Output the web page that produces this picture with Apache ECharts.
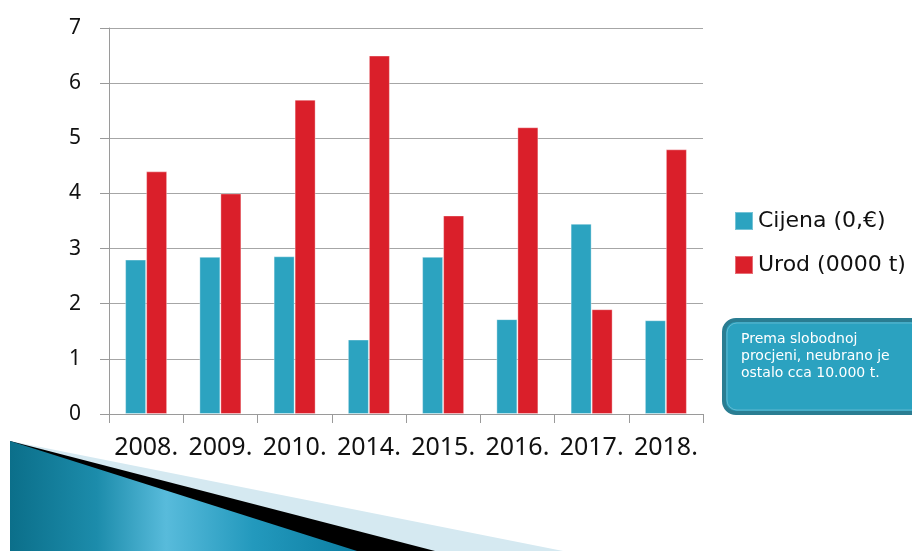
<!DOCTYPE html>
<html>
<head>
<meta charset="utf-8">
<script src="https://cdn.jsdelivr.net/npm/echarts@6/dist/echarts.min.js"></script>
<style>html,body{margin:0;padding:0;background:#fff;}#c{width:912px;height:551px;}</style>
</head>
<body>
<div id="c"></div>
<script>
var categories = ['2008.', '2009.', '2010.', '2014.', '2015.', '2016.', '2017.', '2018.'];
var cijena = [2.8, 2.85, 2.86, 1.35, 2.85, 1.72, 3.45, 1.7];
var urod = [4.4, 4.0, 5.7, 6.5, 3.6, 5.2, 1.9, 4.8];
var seriesNames = ['Cijena (0,€)', 'Urod (0000 t)'];
var noteLines = ['Prema slobodnoj', 'procjeni, neubrano je', 'ostalo cca 10.000 t.'];

var chart = echarts.init(document.getElementById('c'));
chart.setOption({
  animation: false,
  backgroundColor: '#ffffff',
  grid: { left: 109, right: 209, top: 28, bottom: 137 },
  legend: {
    orient: 'vertical',
    left: 729, top: 205,
    itemWidth: 18, itemHeight: 18, itemGap: 22,
    icon: 'rect',
    textStyle: { fontFamily: 'DejaVu Sans', fontSize: 22, color: '#111', lineHeight: 22 },
    data: seriesNames
  },
  xAxis: {
    type: 'category',
    data: categories,
    boundaryGap: true,
    axisLine: { lineStyle: { color: '#9a9a9a', width: 1 } },
    axisTick: { show: true, length: 9, lineStyle: { color: '#9a9a9a' } },
    axisLabel: { fontFamily: 'Noto Sans', fontSize: 25, color: '#111', margin: 21, interval: 0 }
  },
  yAxis: {
    type: 'value',
    min: 0, max: 7, interval: 1,
    axisLine: { show: true, lineStyle: { color: '#9a9a9a', width: 1 } },
    axisTick: { show: true, length: 9, lineStyle: { color: '#9a9a9a' } },
    axisLabel: { fontFamily: 'Noto Sans', fontSize: 21, color: '#111', margin: 28, padding: [0, 0, 6, 0] },
    splitLine: { lineStyle: { color: '#a6a6a6', width: 1 } }
  },
  series: [
    { name: seriesNames[0], type: 'bar', data: cijena, barWidth: 21, barGap: '0%',
      itemStyle: { color: '#2ca3c0', borderColor: 'rgba(255,255,255,0.35)', borderWidth: 1 } },
    { name: seriesNames[1], type: 'bar', data: urod, barWidth: 21, barGap: '0%',
      itemStyle: { color: '#da1f2a', borderColor: 'rgba(255,255,255,0.35)', borderWidth: 1 } }
  ],
  graphic: [
    { type: 'polygon', z: -10, shape: { points: [[10, 441], [563, 551], [10, 551]] }, style: { fill: '#d5e9f1' } },
    { type: 'polygon', z: -9, shape: { points: [[10, 441], [435, 551], [10, 551]] }, style: { fill: '#000000' } },
    { type: 'polygon', z: -8, shape: { points: [[10, 441], [357, 551], [10, 551]] },
      style: { fill: { type: 'linear', x: 0, y: 0, x2: 1, y2: 0, global: false,
        colorStops: [
          { offset: 0, color: '#0b6f8a' },
          { offset: 0.25, color: '#1c8cab' },
          { offset: 0.45, color: '#58bbdb' },
          { offset: 0.7, color: '#2399bd' },
          { offset: 1, color: '#0c7ea2' }
        ] } } },
    { type: 'rect', z: 10, shape: { x: 724, y: 320, width: 200, height: 93, r: 12 },
      style: { fill: '#2ba2c0', stroke: '#2a7d92', lineWidth: 4 } },
    { type: 'rect', z: 11, shape: { x: 727, y: 323, width: 194, height: 87, r: 10 },
      style: { fill: 'none', stroke: 'rgba(255,255,255,0.25)', lineWidth: 1 } },
    { type: 'text', z: 12, left: 741, top: 331,
      style: { text: noteLines.join('\n'), fill: '#ffffff', font: '14px "DejaVu Sans"', lineHeight: 17 } }
  ]
});
</script>
</body>
</html>
